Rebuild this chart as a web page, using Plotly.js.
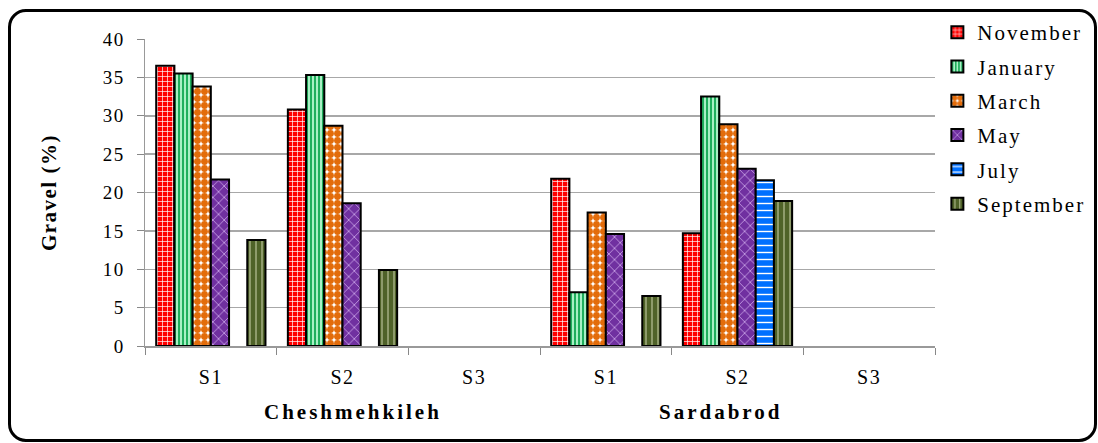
<!DOCTYPE html>
<html>
<head>
<meta charset="utf-8">
<script src="https://cdn.plot.ly/plotly-3.0.1.min.js"></script>
<style>
  html, body { margin: 0; padding: 0; background: #fff; }
  #wrap { position: relative; width: 1098px; height: 443px; overflow: hidden; }
  #chart { position: absolute; left: 0; top: 0; width: 1098px; height: 443px; }
  #frame { position: absolute; left: 8px; top: 9px; width: 1089px; height: 433px; box-sizing: border-box;
           border: 3px solid #000; border-radius: 18px; pointer-events: none; }
  svg text { letter-spacing: 1.5px; }
  .legend text { letter-spacing: 2px; }
</style>
</head>
<body>
<div id="wrap">
  <div id="chart"></div>
  <div id="frame"></div>
</div>
<script>
// Categories
const categoryKeys = ["C-S1", "C-S2", "C-S3", "S-S1", "S-S2", "S-S3"];
const tickLabels = ["S1", "S2", "S3", "S1", "S2", "S3"];
const groupNames = ["Cheshmehkileh", "Sardabrod"];

// Series values (Gravel %), null = no bar
const november  = [36.5, 30.8, null, 21.8, 14.7, null];
const january   = [35.5, 35.3, null, 7.0, 32.5, null];
const march     = [33.8, 28.7, null, 17.4, 28.9, null];
const may       = [21.7, 18.6, null, 14.6, 23.1, null];
const july      = [null, null, null, null, 21.6, null];
const september = [13.8, 9.9, null, 6.5, 18.9, null];

const seriesNames = ["November", "January", "March", "May", "July", "September"];
const seriesData = [november, january, march, may, july, september];
const patterns = [
  {shape: "+", bgcolor: "#ff0000", fgcolor: "#ffffff", size: 5, solidity: 0.25},
  {shape: "|", bgcolor: "#a8f0c4", fgcolor: "#1fae5c", size: 4, solidity: 0.5},
  {shape: ".", bgcolor: "#ffffff", fgcolor: "#e36c0a", size: 7, solidity: 0.75},
  {shape: "x", bgcolor: "#7030a0", fgcolor: "#c8a2e6", size: 8, solidity: 0.2},
  {shape: "-", bgcolor: "#0070ff", fgcolor: "#ffffff", size: 7, solidity: 0.2},
  {shape: "|", bgcolor: "#4f6228", fgcolor: "#c4cca4", size: 6, solidity: 0.18}
];

const font = "Liberation Serif, Times New Roman, serif";

const traces = seriesNames.map((name, i) => ({
  type: "bar",
  name: name,
  legendgroup: name,
  x: categoryKeys,
  y: seriesData[i],
  marker: {
    color: patterns[i].bgcolor,
    line: {color: "#000", width: 2},
    pattern: {
      shape: patterns[i].shape,
      bgcolor: patterns[i].bgcolor,
      fgcolor: patterns[i].fgcolor,
      fgopacity: 1,
      size: patterns[i].size,
      solidity: patterns[i].solidity,
      fillmode: "replace"
    }
  },
  hoverinfo: "name+y"
}));

const layout = {
  width: 1098,
  height: 443,
  margin: {l: 145, r: 163, t: 39, b: 97},
  paper_bgcolor: "rgba(0,0,0,0)",
  plot_bgcolor: "#fff",
  barmode: "group",
  bargap: 0.17,
  bargroupgap: 0,
  font: {family: font, color: "#000", size: 18},
  showlegend: true,
  legend: {
    x: 1.003, xanchor: "left",
    y: 1.088, yanchor: "top",
    font: {family: font, size: 21, color: "#000"},
    tracegroupgap: 4,
    bgcolor: "rgba(0,0,0,0)",
    itemwidth: 30
  },
  xaxis: {
    type: "category",
    categoryorder: "array",
    categoryarray: categoryKeys,
    tickmode: "array",
    tickvals: categoryKeys,
    ticktext: tickLabels,
    tickson: "boundaries",
    ticks: "outside",
    ticklen: 7,
    tickcolor: "#888",
    tickwidth: 1,
    showline: true,
    linecolor: "#999",
    linewidth: 1.5,
    showgrid: false,
    range: [-0.5, 5.5],
    tickfont: {family: font, size: 20, color: "#000"},
    ticklabelstandoff: 12
  },
  yaxis: {
    range: [0, 40],
    dtick: 5,
    tick0: 0,
    ticks: "outside",
    ticklen: 7,
    tickcolor: "#888",
    showline: true,
    linecolor: "#999",
    linewidth: 1.5,
    showgrid: true,
    gridcolor: "#a8a8a8",
    gridwidth: 1.5,
    zeroline: false,
    tickfont: {family: font, size: 19, color: "#000"},
    ticklabelstandoff: 8
  },
  annotations: [
    {text: "<b><span style='letter-spacing:1.5px'>Gravel (%)</span></b>", xref: "paper", yref: "paper",
     x: -0.122, y: 0.5, xanchor: "center", yanchor: "middle",
     textangle: -90, showarrow: false, font: {family: font, size: 21, color: "#000"}},
    {text: "<b><span style='letter-spacing:3px'>" + groupNames[0] + "</span></b>", xref: "paper", yref: "paper",
     x: 0.263, y: -0.215, xanchor: "center", yanchor: "middle",
     showarrow: false, font: {family: font, size: 21, color: "#000"}},
    {text: "<b><span style='letter-spacing:3px'>" + groupNames[1] + "</span></b>", xref: "paper", yref: "paper",
     x: 0.728, y: -0.215, xanchor: "center", yanchor: "middle",
     showarrow: false, font: {family: font, size: 21, color: "#000"}}
  ]
};

Plotly.newPlot("chart", traces, layout, {displayModeBar: false, staticPlot: true});
</script>
</body>
</html>
